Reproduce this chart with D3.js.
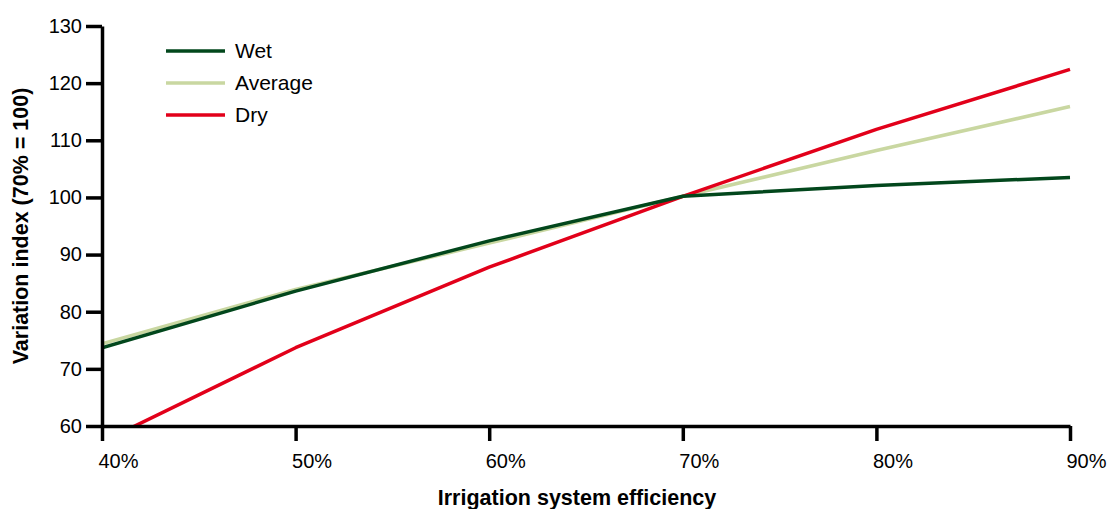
<!DOCTYPE html>
<html>
<head>
<meta charset="utf-8">
<script src="https://cdn.jsdelivr.net/npm/d3@7"></script>
<style>
  body { margin: 0; background: #fff; }
  text { font-family: "Liberation Sans", Arial, sans-serif; }
</style>
</head>
<body>
<svg id="chart"></svg>
<script>
const width = 1110;
const height = 509;

// data
const efficiency = [0.4, 0.5, 0.6, 0.7, 0.8, 0.9];
const wet = [73.7, 83.6, 92.4, 100.2, 102.1, 103.5];
const average = [74.4, 83.9, 92.0, 100.2, 108.2, 115.9];
const dry = [57.2, 73.7, 87.8, 100.2, 111.9, 122.4];
const seriesNames = ["Wet", "Average", "Dry"];
const seriesColors = ["#02471c", "#c9d7a1", "#e2001a"];
const yTicks = [60, 70, 80, 90, 100, 110, 120, 130];

const margin = { top: 26, right: 40, bottom: 83, left: 102 };

const svg = d3.select("#chart")
    .attr("width", width)
    .attr("height", height);

const x = d3.scaleLinear()
    .domain([0.4, 0.9])
    .range([margin.left, 1070]);

const y = d3.scaleLinear()
    .domain([60, 130])
    .range([height - margin.bottom, margin.top]);

// clip so the dry line stops at the x axis
svg.append("clipPath")
    .attr("id", "plot-clip")
    .append("rect")
    .attr("x", x(0.4))
    .attr("y", y(130) - 5)
    .attr("width", x(0.9) - x(0.4) + 5)
    .attr("height", y(60) - y(130) + 5);

const line = d3.line()
    .x((d, i) => x(efficiency[i]))
    .y(d => y(d));

const allSeries = [wet, average, dry];

// draw average first, then dry, then wet on top
[1, 2, 0].forEach(k => {
    svg.append("path")
        .datum(allSeries[k])
        .attr("clip-path", "url(#plot-clip)")
        .attr("fill", "none")
        .attr("stroke", seriesColors[k])
        .attr("stroke-width", 3.5)
        .attr("stroke-linejoin", "round")
        .attr("d", line);
});

// y axis
const yAxis = svg.append("g")
    .attr("transform", `translate(${margin.left},0)`)
    .call(d3.axisLeft(y).tickValues(yTicks).tickSize(16).tickPadding(4).tickSizeOuter(0));

// x axis
const xAxis = svg.append("g")
    .attr("transform", `translate(0,${y(60)})`)
    .call(d3.axisBottom(x).tickValues(efficiency).tickFormat(d3.format(".0%")).tickSize(15).tickPadding(13).tickSizeOuter(0));

[yAxis, xAxis].forEach(g => {
    g.select(".domain").attr("stroke", "#000").attr("stroke-width", 3.5);
    g.selectAll(".tick line").attr("stroke", "#000").attr("stroke-width", 3.5);
    g.selectAll(".tick text")
        .attr("fill", "#000")
        .style("font-size", "20px");
});

xAxis.selectAll(".tick text")
    .attr("text-anchor", "start")
    .attr("dx", -4);

// axis titles
svg.append("text")
    .attr("x", 577)
    .attr("y", 505)
    .attr("text-anchor", "middle")
    .style("font-size", "21.5px")
    .style("font-weight", "bold")
    .text("Irrigation system efficiency");

svg.append("text")
    .attr("transform", `translate(28,${(y(60) + y(130)) / 2}) rotate(-90)`)
    .attr("text-anchor", "middle")
    .style("font-size", "21.5px")
    .style("font-weight", "bold")
    .text("Variation index (70% = 100)");

// legend
const legend = svg.append("g")
    .attr("transform", "translate(166,51)");

seriesNames.forEach((name, i) => {
    const row = legend.append("g").attr("transform", `translate(0,${i * 32})`);
    row.append("line")
        .attr("x1", 0).attr("x2", 59)
        .attr("stroke", seriesColors[i])
        .attr("stroke-width", 3.5);
    row.append("text")
        .attr("x", 69)
        .attr("y", 7)
        .style("font-size", "21px")
        .text(name);
});
</script>
</body>
</html>
